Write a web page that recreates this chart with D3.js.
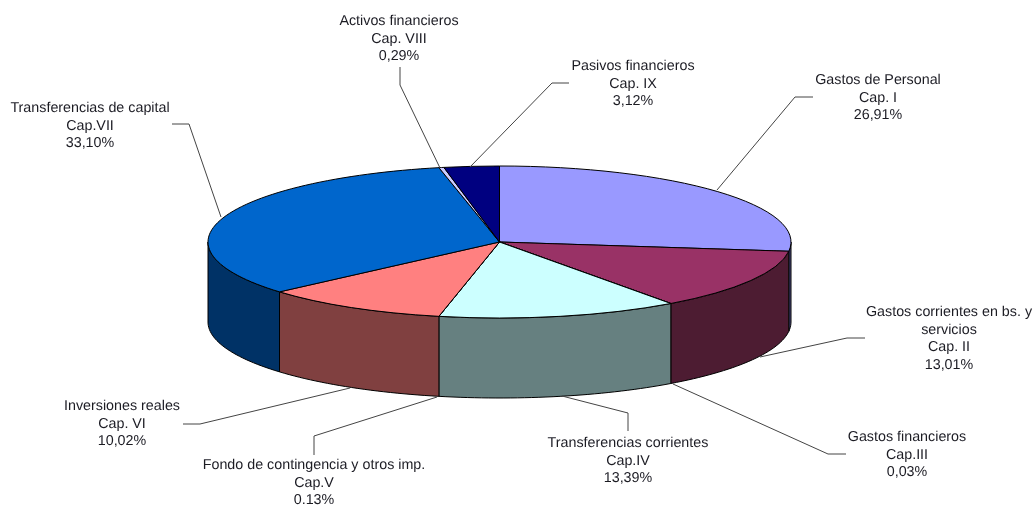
<!DOCTYPE html>
<html>
<head>
<meta charset="utf-8">
<script src="https://cdn.jsdelivr.net/npm/d3@7"></script>
<style>
  html, body { margin: 0; padding: 0; background: #fff; }
  text { font-family: "Liberation Sans", Arial, sans-serif; font-size: 14.3px; fill: #1c1c24; text-anchor: middle; text-rendering: geometricPrecision; }
</style>
</head>
<body>
<svg id="chart"></svg>
<script>
const names = ["Gastos de Personal", "Gastos corrientes en bs. y servicios", "Gastos financieros", "Transferencias corrientes", "Fondo de contingencia y otros imp.", "Inversiones reales", "Transferencias de capital", "Activos financieros", "Pasivos financieros"];
const chapters = ["Cap. I", "Cap. II", "Cap.III", "Cap.IV", "Cap.V", "Cap. VI", "Cap.VII", "Cap. VIII", "Cap. IX"];
const percents = [26.91, 13.01, 0.03, 13.39, 0.13, 10.02, 33.10, 0.29, 3.12];
const percentLabels = ["26,91%", "13,01%", "0,03%", "13,39%", "0.13%", "10,02%", "33,10%", "0,29%", "3,12%"];

const topColors = ["#9999ff", "#993366", "#ffffcc", "#ccffff", "#660066", "#ff8080", "#0066cc", "#ccccff", "#000080"];
const sideColors = ["#4d4d80", "#4d1a33", "#808066", "#668080", "#330033", "#804040", "#003366", "#666680", "#000040"];

// Where each label sits and how its leader line runs
const labelPos = [[878, 84], [949, 316], [907, 441], [628, 447], [314, 469], [122, 410], [90, 112], [399, 25], [633, 70]];
const leaders = [
  [[717, 190], [795, 97], [813, 97]],
  [[760, 357], [847, 338], [865, 338]],
  [[673, 384], [828, 454], [846, 454]],
  [[562, 396], [628, 413], [628, 431]],
  [[437, 397], [314, 436], [314, 455]],
  [[350, 388], [200, 424], [183, 424]],
  [[221, 217], [189, 124], [172, 124]],
  [[440, 168], [400, 85], [400, 67]],
  [[470, 167], [552, 83], [569, 83]]
];

const width = 1033, height = 507;
const cx = 499.5, cy = 242, rx = 291.5, ry = 76, depth = 80;

const svg = d3.select("#chart").attr("width", width).attr("height", height).style("display", "block");

// The scan is a bit soft
svg.append("defs").append("filter")
  .attr("id", "soft")
  .attr("x", 0).attr("y", 0).attr("width", 1).attr("height", 1)
  .attr("filterUnits", "objectBoundingBox")
  .append("feGaussianBlur")
  .attr("stdDeviation", 0.35);

const root = svg.append("g").attr("filter", "url(#soft)");
root.append("rect").attr("width", width).attr("height", height).attr("fill", "#fff");

// Slices are drawn on whole degrees, so the tiniest ones collapse to a single line
const degree = Math.PI / 180;
const snap = a => Math.round(a / degree) * degree;
const pie = d3.pie().sort(null).value(d => d);
const slices = pie(percents).map(d => ({ ...d, startAngle: snap(d.startAngle), endAngle: snap(d.endAngle) }));

// Map the unit circle on to the tilted ellipse
const xScale = d3.scaleLinear().domain([-1, 1]).range([cx - rx, cx + rx]);
const yScale = d3.scaleLinear().domain([-1, 1]).range([cy + ry, cy - ry]);

// Walls, only the front half of the cylinder can be seen
const wallLine = d3.line();
function wallPath(d) {
  const a0 = Math.max(d.startAngle, Math.PI / 2);
  const a1 = Math.min(d.endAngle, Math.PI * 1.5);
  if (a1 <= a0) return null;
  const steps = Math.max(2, Math.ceil((a1 - a0) * 40));
  const angles = d3.range(steps + 1).map(i => a0 + (a1 - a0) * i / steps);
  const upper = angles.map(a => [xScale(Math.sin(a)), yScale(Math.cos(a))]);
  const lower = upper.slice().reverse().map(p => [p[0], p[1] + depth]);
  return wallLine(upper.concat(lower)) + "Z";
}

root.append("g").selectAll("path")
  .data(slices.filter(d => wallPath(d)))
  .enter()
  .append("path")
  .attr("d", wallPath)
  .attr("fill", d => sideColors[d.index])
  .attr("stroke", "#000")
  .attr("stroke-width", 1)
  .attr("stroke-linejoin", "round");

// Top face: a flat pie squashed into an ellipse
const arc = d3.arc().innerRadius(0).outerRadius(rx);
root.append("g")
  .attr("transform", `translate(${cx},${cy}) scale(1,${ry / rx})`)
  .selectAll("path")
  .data(slices)
  .enter()
  .append("path")
  .attr("d", arc)
  .attr("fill", d => topColors[d.index])
  .attr("stroke", "#000")
  .attr("stroke-width", 1)
  .attr("vector-effect", "non-scaling-stroke");

// Leader lines
root.append("g").selectAll("path")
  .data(leaders)
  .enter()
  .append("path")
  .attr("d", d3.line())
  .attr("fill", "none")
  .attr("stroke", "#444")
  .attr("stroke-width", 1);

// Labels, the long name of Cap. II breaks on two lines
const labelLines = names.map((n, i) => {
  const first = n === "Gastos corrientes en bs. y servicios" ? ["Gastos corrientes en bs. y", "servicios"] : [n];
  return first.concat([chapters[i], percentLabels[i]]);
});

const labels = root.append("g").selectAll("text")
  .data(labelLines)
  .enter()
  .append("text")
  .attr("transform", (d, i) => `translate(${labelPos[i][0]},${labelPos[i][1]})`);

labels.selectAll("tspan")
  .data(d => d)
  .enter()
  .append("tspan")
  .attr("x", 0)
  .attr("y", (d, i) => i * 17.5)
  .text(d => d);
</script>
</body>
</html>
